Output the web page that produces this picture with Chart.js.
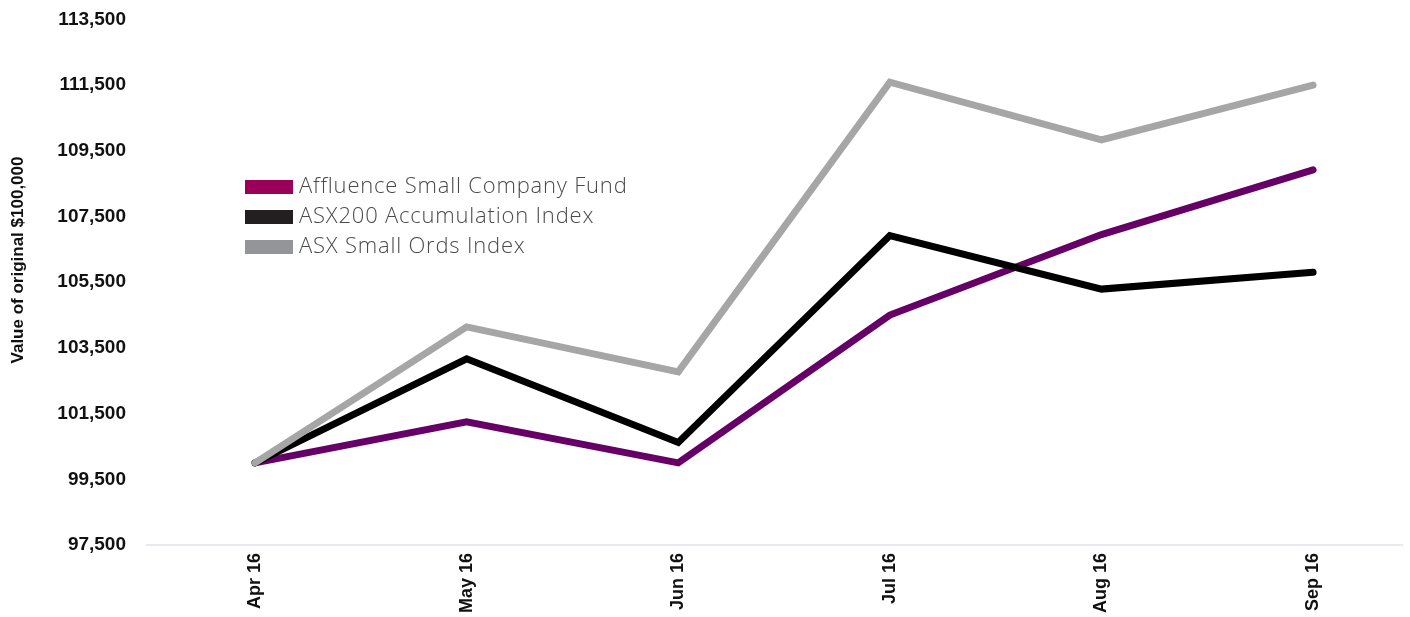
<!DOCTYPE html>
<html lang="en">
<head>
  <meta charset="UTF-8" />
  <title>Value of original $100,000</title>
  <script src="https://cdn.jsdelivr.net/npm/chart.js"></script>
  <style>
    html, body { margin: 0; padding: 0; background: #fff; }
    #wrap { position: relative; width: 1410px; height: 617px; }
    #legend { position: absolute; left: 245px; top: 170px; font-family: 'Open Sans', sans-serif; font-weight: 300; font-size: 22px; letter-spacing: 0.8px; color: #4a4a4a; }
    #legend div { height: 30px; line-height: 29px; white-space: nowrap; }
    #legend span { display: inline-block; width: 48px; height: 14px; margin-right: 6px; vertical-align: -1px; }
  </style>
</head>
<body>
  <div id="wrap">
    <canvas id="lineChart" width="1410" height="617"></canvas>
    <div id="legend"></div>
  </div>

  <script>
    const months = ['Apr 16', 'May 16', 'Jun 16', 'Jul 16', 'Aug 16', 'Sep 16'];
    const fundValues = [100000, 101250, 100000, 104500, 106950, 108920];
    const asx200Values = [100000, 103170, 100620, 106920, 105290, 105800];
    const smallOrdsValues = [100000, 104140, 102770, 111590, 109830, 111500];
    const yTicks = [97500, 99500, 101500, 103500, 105500, 107500, 109500, 111500, 113500];

    const seriesNames = ['Affluence Small Company Fund', 'ASX200 Accumulation Index', 'ASX Small Ords Index'];
    const lineColours = ['#660066', '#000000', '#a6a6a6'];
    const swatchColours = ['#9b0059', '#231f20', '#939598'];
    const yTitle = 'Value of original $100,000';

    // legend sits inside the plot, so build it by hand
    const legend = document.getElementById('legend');
    seriesNames.forEach((name, i) => {
      const row = document.createElement('div');
      row.innerHTML = '<span style="background:' + swatchColours[i] + '"></span>' + name;
      legend.appendChild(row);
    });

    // light axis line along the bottom, a bit wider than the plotted months
    const baseLine = {
      id: 'baseLine',
      beforeDatasetsDraw(chart) {
        const ctx = chart.ctx;
        const y = chart.scales.y.getPixelForValue(yTicks[0]);
        ctx.save();
        ctx.strokeStyle = '#e6e9ef';
        ctx.lineWidth = 2;
        ctx.beginPath();
        ctx.moveTo(146, y);
        ctx.lineTo(chart.chartArea.right, y);
        ctx.stroke();
        ctx.restore();
      }
    };

    // the axis title in the original sits a little above the middle of the axis
    const axisTitle = {
      id: 'axisTitle',
      afterDraw(chart) {
        const ctx = chart.ctx;
        ctx.save();
        ctx.translate(18, 260);
        ctx.rotate(-Math.PI / 2);
        ctx.font = 'bold 17px "Liberation Sans", Arial';
        ctx.fillStyle = '#111';
        ctx.textAlign = 'center';
        ctx.textBaseline = 'middle';
        ctx.fillText(yTitle, 0, 0);
        ctx.restore();
      }
    };

    const makeSet = (i, values) => ({
      label: seriesNames[i],
      data: values.map((v, k) => ({ x: k, y: v })),
      borderColor: lineColours[i],
      backgroundColor: lineColours[i],
      borderWidth: 7,
      borderCapStyle: 'round',
      borderJoinStyle: 'miter',
      pointRadius: 0,
      tension: 0
    });

    const tickFont = { family: 'Liberation Sans, Arial', size: 18, weight: 'bold' };

    new Chart(document.getElementById('lineChart'), {
      type: 'line',
      data: {
        datasets: [
          makeSet(2, smallOrdsValues),
          makeSet(1, asx200Values),
          makeSet(0, fundValues)
        ]
      },
      options: {
        responsive: false,
        animation: false,
        layout: { padding: { top: 0, right: 7, bottom: 0, left: 0 } },
        plugins: { legend: { display: false }, tooltip: { enabled: false } },
        scales: {
          x: {
            type: 'linear',
            min: -0.572,
            max: 5.425,
            afterBuildTicks: (scale) => { scale.ticks = months.map((m, k) => ({ value: k })); },
            afterFit: (scale) => { scale.height = 72; },
            grid: { display: false, drawTicks: false },
            border: { display: false },
            ticks: {
              color: '#111',
              font: tickFont,
              maxRotation: 90,
              minRotation: 90,
              padding: 8,
              callback: (v) => months[v]
            }
          },
          y: {
            min: 97500,
            max: 113500,
            afterBuildTicks: (scale) => { scale.ticks = yTicks.map(v => ({ value: v })); },
            afterFit: (scale) => { scale.width = 134; },
            grid: { display: false, drawTicks: false },
            border: { display: false },
            ticks: {
              color: '#111',
              padding: 8,
              font: { family: 'Liberation Sans, Arial', size: 19, weight: 'bold' },
              callback: (v) => v.toLocaleString('en-US')
            }
          }
        }
      },
      plugins: [baseLine, axisTitle]
    });
  </script>
</body>
</html>
